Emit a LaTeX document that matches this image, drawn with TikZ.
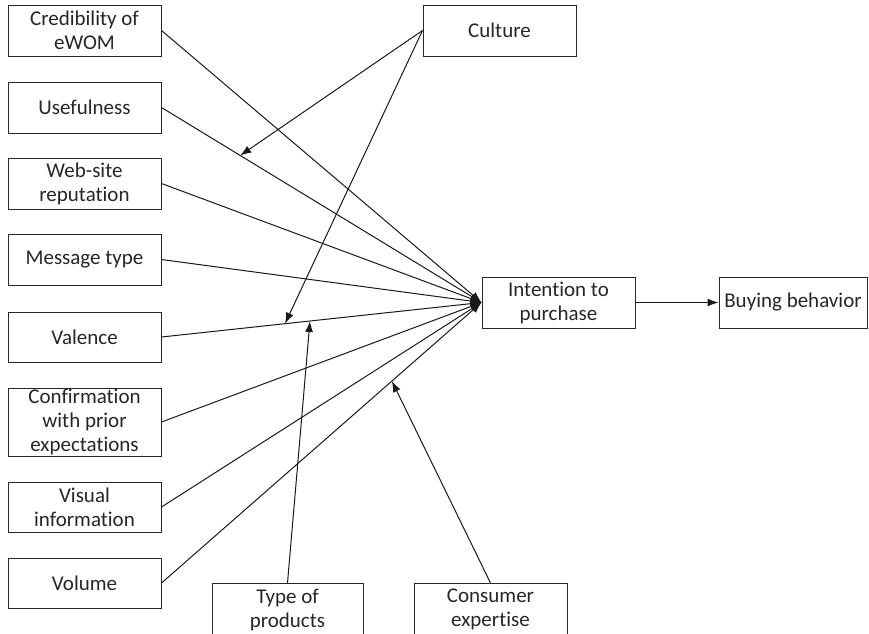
\documentclass[tikz,border=0pt]{standalone}
\usepackage{fontspec}
\setmainfont{Carlito}[Ligatures=NoCommon]
\usetikzlibrary{arrows.meta,calc}
\begin{document}
\begin{tikzpicture}[x=1pt,y=-1pt,
  box/.style={draw=black!85, line width=1pt, minimum width=153pt, inner sep=0pt,
    align=center, text=black!85, font=\fontsize{21}{24}\selectfont},
  arr/.style={draw=black!90, line width=1pt, -{Latex[length=11pt,width=8pt]}}]
\useasboundingbox (0,0) rectangle (869,633);
\node[box, minimum height=51pt] (cred) at (84.5,30.5) {Credibility of\\eWOM};
\node[box, minimum height=51pt] (use) at (84.5,107.5) {Usefulness};
\node[box, minimum height=51pt] (web) at (84.5,183.5) {Web-site\\reputation};
\node[box, minimum height=51pt] (msg) at (84.5,259.5) {Message type};
\node[box, minimum height=50pt] (val) at (84.5,337) {Valence};
\node[box, minimum height=68pt] (conf) at (84.5,422) {Confirmation\\with prior\\expectations};
\node[box, minimum height=50pt] (vis) at (84.5,507) {Visual\\information};
\node[box, minimum height=50pt] (vol) at (84.5,583) {Volume};
\node[box, minimum height=51pt] (cult) at (499.5,30.5) {Culture};
\node[box, minimum height=51pt] (int) at (558.5,302.5) {Intention to\\purchase};
\node[box, minimum height=51pt, minimum width=148pt] (buy) at (793,302.5) {Buying behavior};
\node[box, minimum height=52pt, minimum width=151pt, anchor=north] (type) at (287.5,583) {Type of\\products};
\node[box, minimum height=52pt, anchor=north] (cons) at (490.5,583) {Consumer\\expertise};
\foreach \n in {cred,use,web,msg,val,conf,vis,vol}
  \draw[arr] (\n.east) -- (int.west);
\draw[arr] (int) -- (buy);
\coordinate (p1) at ($(use.east)!0.246!(int.west)$);
\coordinate (p2) at ($(val.east)!0.386!(int.west)$);
\coordinate (p3) at ($(val.east)!0.464!(int.west)$);
\coordinate (p4) at ($(vol.east)!0.72!(int.west)$);
\draw[arr] (cult.west) -- (p1);
\draw[arr] (cult.west) -- (p2);
\draw[arr] (type.north) -- (p3);
\draw[arr] (cons.north) -- (p4);
\end{tikzpicture}
\end{document}
